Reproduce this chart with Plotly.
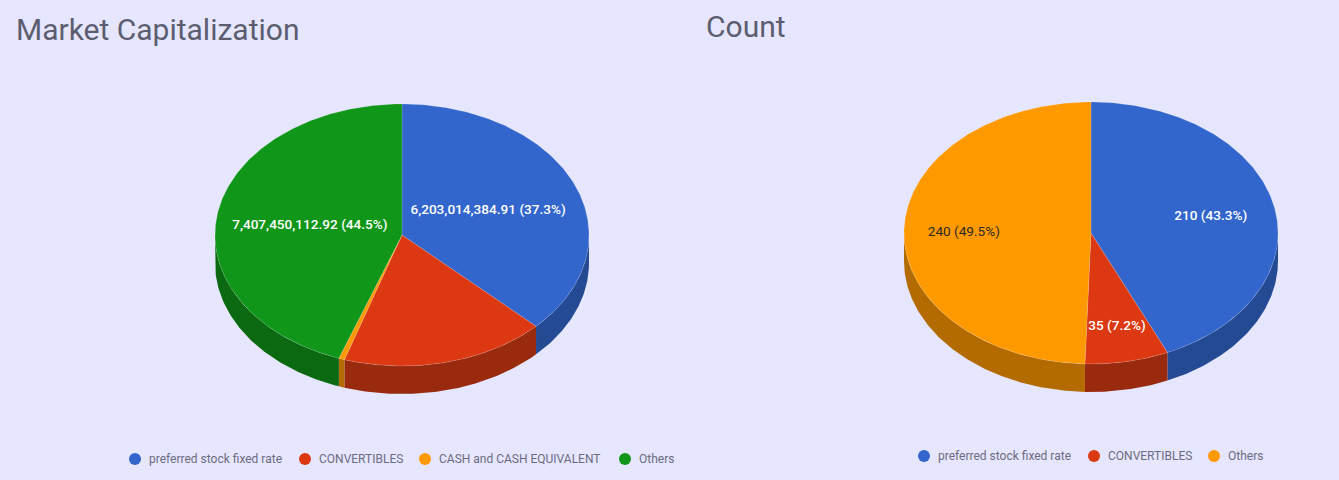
import numpy as np
import plotly.graph_objects as go

cap_labels = ["preferred stock fixed rate", "CONVERTIBLES", "CASH and CASH EQUIVALENT", "Others"]
cap_values = [6203014384.91, 2945000000.0, 83000000.0, 7407450112.92]
cap_colors = ["#3366cc", "#dc3912", "#ff9900", "#109618"]
cap_sides = ["#254a94", "#992a0d", "#b36b00", "#0b6911"]

count_labels = ["preferred stock fixed rate", "CONVERTIBLES", "Others"]
count_values = [210, 35, 240]
count_colors = ["#3366cc", "#dc3912", "#ff9900"]
count_sides = ["#254a94", "#992a0d", "#b36b00"]

BG = "#e6e6ff"
RX, RY, DEPTH = 187, 131, 28


def format_value(v):
    if float(v).is_integer():
        return f"{int(v):,}"
    return f"{v:,.2f}"


def rim(cx, cy, a, b, drop=0):
    t = np.linspace(a, b, max(int(abs(b - a) * 80), 2))
    return cx + RX * np.sin(t), cy - RY * np.cos(t) + drop


def add_pie(fig, values, labels, colors, sides, cx, cy, label_r, dark_text=()):
    shares = np.array(values) / sum(values)
    edges = np.concatenate([[0], np.cumsum(shares)]) * 2 * np.pi

    # side walls first, only the front half of the rim shows
    for i in range(len(values)):
        a, b = max(edges[i], np.pi / 2), min(edges[i + 1], 3 * np.pi / 2)
        if b <= a:
            continue
        x, y = rim(cx, cy, a, b)
        x2, y2 = rim(cx, cy, b, a, DEPTH)
        fig.add_trace(go.Scatter(
            x=np.concatenate([x, x2]), y=np.concatenate([y, y2]), fill="toself",
            mode="lines", line=dict(width=0), fillcolor=sides[i],
            showlegend=False, hoverinfo="skip",
        ))

    for i in range(len(values)):
        x, y = rim(cx, cy, edges[i], edges[i + 1])
        fig.add_trace(go.Scatter(
            x=np.concatenate([[cx], x, [cx]]), y=np.concatenate([[cy], y, [cy]]), fill="toself",
            mode="lines", line=dict(width=0.6, color="rgba(255,255,255,0.25)"), fillcolor=colors[i],
            name=labels[i], showlegend=False, hoverinfo="name",
        ))

    # label_r is None for slices the original leaves unlabelled
    for i in range(len(values)):
        if label_r[i] is None:
            continue
        mid = (edges[i] + edges[i + 1]) / 2
        dark = i in dark_text
        fig.add_trace(go.Scatter(
            x=[cx + label_r[i] * RX * np.sin(mid)], y=[cy - label_r[i] * RY * np.cos(mid) + 1.5],
            mode="text", text=[f"{format_value(values[i])} ({shares[i] * 100:.1f}%)"],
            textfont=dict(family="Roboto", size=13.6, weight=400 if dark else 500,
                          color="#2a2a2a" if dark else "#ffffff"),
            showlegend=False, hoverinfo="skip",
        ))


def add_legend(fig, labels, colors, dot_x, y):
    # the gaps of a native legend are too wide here, so dots and text go on the axes
    for label, color, x in zip(labels, colors, dot_x):
        fig.add_trace(go.Scatter(
            x=[x], y=[y], mode="markers", marker=dict(size=12, color=color),
            showlegend=False, hoverinfo="skip",
        ))
        fig.add_trace(go.Scatter(
            x=[x + 14], y=[y + 1], mode="text", text=[label], textposition="middle right",
            textfont=dict(family="Roboto", size=12, color="#6c6c80"),
            showlegend=False, hoverinfo="skip",
        ))


fig = go.Figure()
add_pie(fig, cap_values, cap_labels, cap_colors, cap_sides, 402, 235, [0.5, None, None, 0.5])
add_pie(fig, count_values, count_labels, count_colors, count_sides, 1091, 233, [0.655, 0.72, 0.68], dark_text=(2,))
add_legend(fig, cap_labels, cap_colors, [135, 305, 425, 625], 459)
add_legend(fig, count_labels, count_colors, [924, 1094, 1214], 456)

fig.update_layout(
    width=1339, height=480, margin=dict(l=0, r=0, t=0, b=0),
    paper_bgcolor=BG, plot_bgcolor=BG,
    xaxis=dict(range=[0, 1339], visible=False, fixedrange=True),
    yaxis=dict(range=[480, 0], visible=False, fixedrange=True),
    annotations=[
        dict(x=14, y=29, text="Market Capitalization", showarrow=False, xanchor="left",
             font=dict(family="Roboto", size=30, color="#5c5e70")),
        dict(x=704, y=26.5, text="Count", showarrow=False, xanchor="left",
             font=dict(family="Roboto", size=30, color="#5c5e70")),
    ],
)

fig.write_html("out.html", config=dict(displayModeBar=False), post_script="document.body.style.margin = '0';")
